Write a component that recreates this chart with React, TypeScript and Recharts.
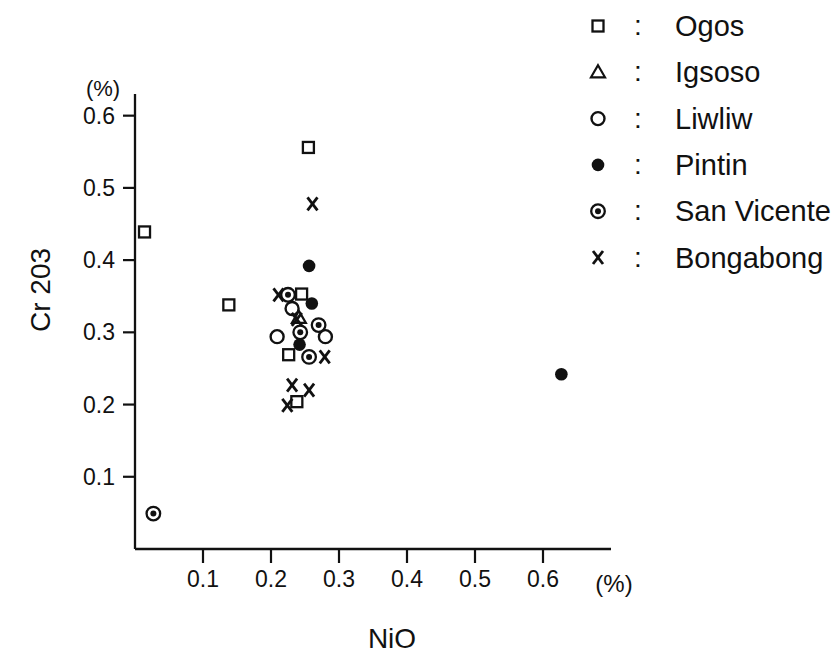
import { ScatterChart, Scatter, XAxis, YAxis, Customized } from "recharts";

// NiO (x) vs Cr2O3 (y), both in %
const ogos = [
  { x: 0.014, y: 0.439 },
  { x: 0.138, y: 0.338 },
  { x: 0.255, y: 0.556 },
  { x: 0.245, y: 0.353 },
  { x: 0.226, y: 0.269 },
  { x: 0.238, y: 0.204 },
];
const igsoso = [{ x: 0.241, y: 0.32 }];
const liwliw = [
  { x: 0.209, y: 0.294 },
  { x: 0.28, y: 0.294 },
  { x: 0.231, y: 0.333 },
];
const pintin = [
  { x: 0.256, y: 0.392 },
  { x: 0.26, y: 0.34 },
  { x: 0.242, y: 0.283 },
  { x: 0.627, y: 0.242 },
];
const sanVicente = [
  { x: 0.027, y: 0.049 },
  { x: 0.225, y: 0.352 },
  { x: 0.243, y: 0.3 },
  { x: 0.27, y: 0.31 },
  { x: 0.256, y: 0.266 },
];
const bongabong = [
  { x: 0.211, y: 0.352 },
  { x: 0.261, y: 0.478 },
  { x: 0.238, y: 0.318 },
  { x: 0.279, y: 0.266 },
  { x: 0.231, y: 0.227 },
  { x: 0.256, y: 0.22 },
  { x: 0.224, y: 0.199 },
];

const xTicks = [0.1, 0.2, 0.3, 0.4, 0.5, 0.6];
const yTicks = [0.1, 0.2, 0.3, 0.4, 0.5, 0.6];

const INK = "#111";
const FONT = "'Liberation Sans', Arial, sans-serif";

const drawMark = (kind: string, cx: number, cy: number) => {
  switch (kind) {
    case "square":
      return <rect x={cx - 5.5} y={cy - 5.5} width={11} height={11} fill="#fff" stroke={INK} strokeWidth={2.3} />;
    case "triangle":
      return (
        <polygon
          points={`${cx},${cy - 7} ${cx + 7},${cy + 5} ${cx - 7},${cy + 5}`}
          fill="#fff"
          stroke={INK}
          strokeWidth={2.2}
        />
      );
    case "circle":
      return <circle cx={cx} cy={cy} r={6.5} fill="#fff" stroke={INK} strokeWidth={2.4} />;
    case "dot":
      return <circle cx={cx} cy={cy} r={6.3} fill={INK} />;
    case "ring":
      return (
        <g>
          <circle cx={cx} cy={cy} r={6.8} fill="#fff" stroke={INK} strokeWidth={2.3} />
          <circle cx={cx} cy={cy} r={3} fill={INK} />
        </g>
      );
    default:
      return (
        <g stroke={INK} strokeWidth={2.8}>
          <line x1={cx - 5} y1={cy - 6.5} x2={cx + 5} y2={cy + 6.5} />
          <line x1={cx + 5} y1={cy - 6.5} x2={cx - 5} y2={cy + 6.5} />
        </g>
      );
  }
};

const series = [
  { name: "Ogos", kind: "square", data: ogos },
  { name: "Igsoso", kind: "triangle", data: igsoso },
  { name: "Liwliw", kind: "circle", data: liwliw },
  { name: "Pintin", kind: "dot", data: pintin },
  { name: "San Vicente", kind: "ring", data: sanVicente },
  { name: "Bongabong", kind: "cross", data: bongabong },
];

const Annotations = () => (
  <g fontFamily={FONT} fill={INK}>
    <text x={103} y={96} fontSize={22} textAnchor="middle">(%)</text>
    <text x={614} y={592} fontSize={24} textAnchor="middle">(%)</text>
    <text x={392} y={648} fontSize={28} textAnchor="middle">NiO</text>
    <text x={0} y={0} fontSize={28} textAnchor="middle" transform="translate(50,290) rotate(-90)">
      Cr 203
    </text>
    {series.map((s, i) => {
      const cy = 26 + i * 46.3;
      return (
        <g key={s.name}>
          {drawMark(s.kind, 598, cy)}
          <text x={638} y={cy + 9} fontSize={28} textAnchor="middle">:</text>
          <text x={675} y={cy + 10} fontSize={29}>{s.name}</text>
        </g>
      );
    })}
  </g>
);

export default function App() {
  return (
    <div style={{ position: "absolute", left: 0, top: 0, background: "#fff" }}>
      <ScatterChart
        width={838}
        height={661}
        margin={{ top: 94, right: 227, bottom: 52, left: 75 }}
      >
        <XAxis
          type="number"
          dataKey="x"
          domain={[0, 0.7]}
          ticks={xTicks}
          tickFormatter={(v: number) => v.toFixed(1)}
          axisLine={{ stroke: INK, strokeWidth: 2.3 }}
          tickLine={{ stroke: INK, strokeWidth: 2.2 }}
          tickSize={14}
          tickMargin={8}
          height={60}
          tick={{ fill: INK, fontSize: 23, fontFamily: FONT }}
        />
        <YAxis
          type="number"
          dataKey="y"
          domain={[0, 0.63]}
          ticks={yTicks}
          tickFormatter={(v: number) => v.toFixed(1)}
          axisLine={{ stroke: INK, strokeWidth: 2.3 }}
          tickLine={{ stroke: INK, strokeWidth: 2.2 }}
          tickSize={12}
          tickMargin={8}
          width={60}
          tick={{ fill: INK, fontSize: 23, fontFamily: FONT }}
        />
        {series.map((s) => (
          <Scatter
            key={s.name}
            name={s.name}
            data={s.data}
            isAnimationActive={false}
            shape={(p: any) => drawMark(s.kind, p.cx, p.cy)}
          />
        ))}
        <Customized component={Annotations} />
      </ScatterChart>
    </div>
  );
}
